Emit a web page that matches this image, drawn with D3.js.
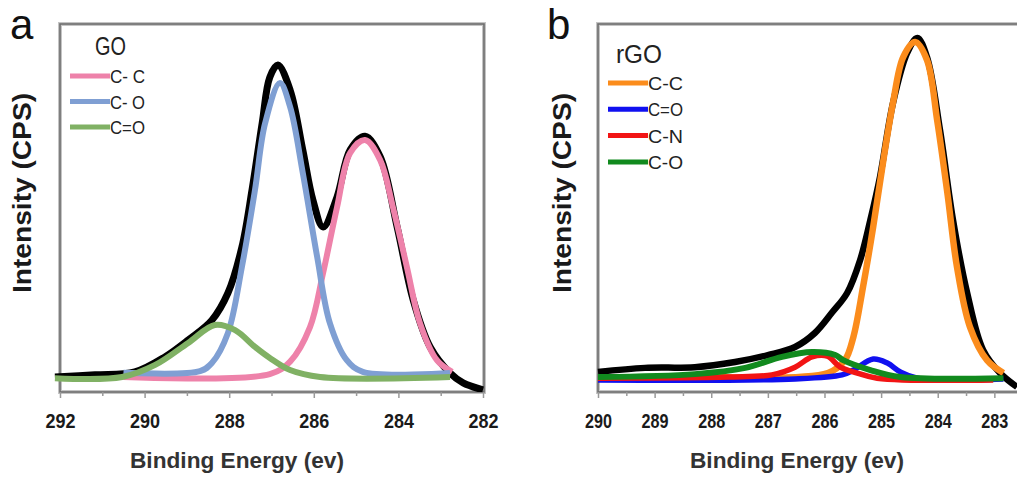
<!DOCTYPE html>
<html lang="en">
<head>
<meta charset="utf-8">
<title>C1s XPS of GO and rGO</title>
<script src="https://cdnjs.cloudflare.com/ajax/libs/d3/7.8.5/d3.min.js"></script>
<style>
  body { margin: 0; background: #fff; }
  svg text { font-family: "Liberation Sans", Arial, sans-serif; }
</style>
</head>
<body>
<div id="plot"></div>
<script>
// ---- data: [binding energy (eV), intensity (0-100 of frame)] ----
var goEnvelope = [[292.12,3.8],[291.17,4.4],[290.23,5.2],[289.52,9.3],[288.97,13.9],[288.41,19.3],[288.03,26.7],
  [287.70,39.2],[287.46,54.8],[287.22,73.0],[287.04,85.5],[286.85,88.8],[286.56,82.0],[286.26,65.7],[286.02,52.0],
  [285.78,44.7],[285.45,52.9],[285.14,65.7],[284.79,69.4],[284.43,63.8],[284.03,44.7],[283.65,24.8],[283.25,12.0],
  [282.78,4.9],[282.47,2.2],[282.00,0.3]];
var goCC = [[290.5,3.8],[287.04,4.6],[286.56,8.0],[286.09,17.4],[285.78,32.2],[285.45,50.1],[285.14,64.9],
  [284.79,68.4],[284.43,62.9],[284.13,50.1],[283.80,33.8],[283.49,18.5],[283.09,8.4],[282.73,5.2]];
var goCO = [[290.5,5.0],[288.69,5.4],[288.41,7.6],[288.03,15.8],[287.70,33.8],[287.39,54.8],[287.15,73.0],
  [286.80,83.9],[286.56,77.4],[286.26,59.4],[285.92,36.5],[285.62,18.5],[285.22,8.4],[284.84,5.2],[282.78,4.9]];
var goCdO = [[292.12,3.5],[290.53,3.8],[289.75,7.1],[288.97,13.1],[288.34,18.0],[287.86,16.6],[287.39,12.0],
  [287.04,9.0],[286.56,5.7],[285.85,3.8],[282.78,3.8]];

var rgoEnvelope = [[290.00,5.2],[289.17,6.3],[288.29,6.5],[287.58,7.9],[287.00,9.8],[286.52,12.0],[286.17,15.8],
  [285.87,21.3],[285.60,26.7],[285.37,35.7],[285.19,46.6],[285.02,58.3],[284.79,78.5],[284.54,92.1],[284.36,96.2],
  [284.19,91.0],[283.96,71.1],[283.73,46.6],[283.48,26.7],[283.20,11.2],[282.90,4.9],[282.60,1.1]];
var rgoCC = [[288.0,3.8],[285.94,4.9],[285.64,8.4],[285.49,14.7],[285.32,28.3],[285.14,44.7],[284.96,62.9],
  [284.79,78.5],[284.61,91.0],[284.40,95.1],[284.19,90.2],[284.01,73.8],[283.83,54.0],[283.66,33.8],
  [283.43,17.4],[283.13,8.4],[282.84,4.9]];
var rgoCdO = [[290.00,3.0],[286.52,3.3],[285.69,4.4],[285.49,5.7],[285.14,8.7],[284.89,7.6],[284.66,5.2],
  [284.36,3.5],[282.84,3.3]];
var rgoCN = [[290.00,3.5],[287.70,3.8],[286.93,4.4],[286.52,6.5],[286.22,9.3],[285.95,9.5],[285.72,6.5],
  [285.42,4.9],[285.07,3.5],[283.02,3.0]];
var rgoCO = [[290.00,3.8],[288.29,4.6],[287.40,6.3],[286.75,9.3],[286.22,10.6],[285.81,9.8],[285.67,8.4],
  [285.19,5.7],[284.66,3.8],[282.84,3.5]];

var goMajorTicks = [292, 290, 288, 286, 284, 282];
var goMinorTicks = [291, 289, 287, 285, 283];
var rgoMajorTicks = [290, 289, 288, 287, 286, 285, 284, 283];
var rgoMinorTicks = [289.5, 288.5, 287.5, 286.5, 285.5, 284.5, 283.5, 282.5];

var goLegend = ["C- C", "C- O", "C=O"];
var rgoLegend = ["C-C", "C=O", "C-N", "C-O"];

// ---- drawing ----
var width = 1017, height = 479;
var frameTop = 24, frameBottom = 392;

var svg = d3.select("#plot").append("svg")
    .attr("width", width)
    .attr("height", height);

function drawPanel(cfg) {
    var xScale = d3.scaleLinear().domain(cfg.domain).range([cfg.left, cfg.right]);
    var yScale = d3.scaleLinear().domain([0, 100]).range([391, frameTop]);
    var g = svg.append("g");

    // frame
    g.append("rect")
        .attr("x", cfg.left).attr("y", frameTop)
        .attr("width", cfg.frameRight - cfg.left).attr("height", frameBottom - frameTop)
        .attr("fill", "none").attr("stroke", "#c4c4c4").attr("stroke-width", 4);
    g.append("rect")
        .attr("x", cfg.left).attr("y", frameTop)
        .attr("width", cfg.frameRight - cfg.left).attr("height", frameBottom - frameTop)
        .attr("fill", "none").attr("stroke", "#6e6e6e").attr("stroke-width", 1.6);

    // ticks
    var major = d3.axisBottom(xScale).tickValues(cfg.major).tickSizeInner(6).tickSizeOuter(0)
        .tickFormat(d3.format("d"));
    var minor = d3.axisBottom(xScale).tickValues(cfg.minor).tickSizeInner(4).tickSizeOuter(0)
        .tickFormat("");
    [major, minor].forEach(function(ax) {
        var a = g.append("g").attr("transform", "translate(0," + frameBottom + ")").call(ax);
        a.select(".domain").remove();
        a.selectAll("line").attr("stroke", "#999").attr("stroke-width", 1.5);
        a.selectAll("text")
            .attr("y", 36).attr("dy", 0)
            .attr("fill", "#1a1a1a")
            .style("font-size", "21px").style("font-weight", "bold")
            .attr("textLength", cfg.labelWidth).attr("lengthAdjust", "spacingAndGlyphs");
    });

    // curves
    var line = d3.line()
        .x(function(d) { return xScale(d[0]); })
        .y(function(d) { return yScale(d[1]); })
        .curve(d3.curveCatmullRom.alpha(0.5));
    var clipId = "clip" + cfg.letter;
    svg.append("clipPath").attr("id", clipId).append("rect")
        .attr("x", cfg.left - 6).attr("y", frameTop)
        .attr("width", cfg.frameRight - cfg.left + 6).attr("height", frameBottom - frameTop);
    var plot = g.append("g").attr("clip-path", "url(#" + clipId + ")");
    cfg.series.forEach(function(s) {
        plot.append("path")
            .datum(s.data)
            .attr("d", line)
            .attr("fill", "none")
            .attr("stroke", s.color)
            .attr("stroke-width", s.width)
            .attr("stroke-linejoin", "round");
    });

    // legend
    g.append("text")
        .attr("x", cfg.legend.titleX).attr("y", cfg.legend.titleY)
        .style("font-size", "25px").attr("fill", "#222")
        .attr("textLength", cfg.legend.titleW).attr("lengthAdjust", "spacingAndGlyphs")
        .text(cfg.legend.title);
    cfg.legend.items.forEach(function(name, i) {
        var ly = cfg.legend.y0 + i * cfg.legend.dy;
        g.append("line")
            .attr("x1", cfg.legend.x).attr("x2", cfg.legend.x + 40)
            .attr("y1", ly).attr("y2", ly)
            .attr("stroke", cfg.legend.colors[i]).attr("stroke-width", 5);
        g.append("text")
            .attr("x", cfg.legend.x + 40).attr("y", ly + 7)
            .style("font-size", "19px").attr("fill", "#222")
            .attr("textLength", 35).attr("lengthAdjust", "spacingAndGlyphs")
            .text(name);
    });

    // panel letter
    g.append("text")
        .attr("x", cfg.letterX).attr("y", 39)
        .style("font-size", "42px").attr("fill", "#111")
        .text(cfg.letter);

    // axis titles
    g.append("text")
        .attr("x", cfg.xTitleX).attr("y", 468)
        .attr("text-anchor", "middle")
        .style("font-size", "22px").style("font-weight", "bold").attr("fill", "#333")
        .attr("textLength", 214).attr("lengthAdjust", "spacingAndGlyphs")
        .text("Binding Energy (ev)");
    g.append("text")
        .attr("transform", "translate(" + cfg.yTitleX + ",193) rotate(-90)")
        .attr("text-anchor", "middle")
        .style("font-size", "25px").style("font-weight", "bold").attr("fill", "#1a1a1a")
        .attr("textLength", 200).attr("lengthAdjust", "spacingAndGlyphs")
        .text("Intensity (CPS)");
}

drawPanel({
    letter: "a", letterX: 10,
    domain: [292, 282], left: 60, right: 483, frameRight: 484,
    major: goMajorTicks, minor: goMinorTicks, labelWidth: 30,
    xTitleX: 237, yTitleX: 31,
    series: [
        { data: goEnvelope, color: "#000", width: 7 },
        { data: goCC, color: "#ee82aa", width: 6 },
        { data: goCO, color: "#7f9fd3", width: 6 },
        { data: goCdO, color: "#80b164", width: 6 }
    ],
    legend: { title: "GO", titleX: 95, titleY: 55, titleW: 31, x: 70, y0: 76, dy: 25.5,
              items: goLegend, colors: ["#ee82aa", "#7f9fd3", "#80b164"] }
});

drawPanel({
    letter: "b", letterX: 547,
    domain: [290, 282.6], left: 598, right: 1017, frameRight: 1030,
    major: rgoMajorTicks, minor: rgoMinorTicks, labelWidth: 27,
    xTitleX: 797, yTitleX: 571,
    series: [
        { data: rgoEnvelope, color: "#000", width: 6.5 },
        { data: rgoCC, color: "#fb8c1c", width: 6.5 },
        { data: rgoCdO, color: "#1010f0", width: 5.5 },
        { data: rgoCN, color: "#f21414", width: 5.5 },
        { data: rgoCO, color: "#118a1e", width: 6 }
    ],
    legend: { title: "rGO", titleX: 616, titleY: 63, titleW: 46, x: 608, y0: 83, dy: 26.3,
              items: rgoLegend, colors: ["#fb8c1c", "#1010f0", "#f21414", "#118a1e"] }
});
</script>
</body>
</html>
